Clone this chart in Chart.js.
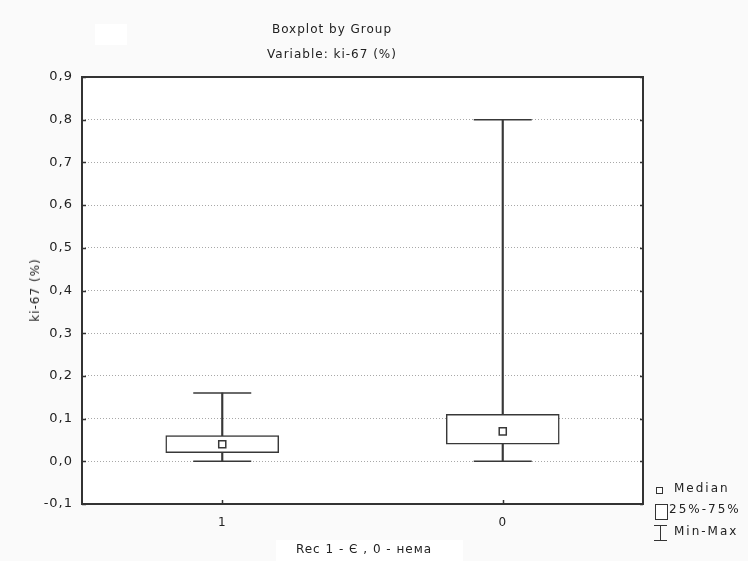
<!DOCTYPE html>
<html lang="uk">
<head>
<meta charset="UTF-8">
<title>Boxplot by Group</title>
<script src="https://cdn.jsdelivr.net/npm/chart.js"></script>
<style>
  body { margin: 0; background: #fafafa; font-family: "DejaVu Sans", sans-serif; color: #222; }
  #wrap { position: relative; width: 748px; height: 561px; overflow: hidden; }
  #chart { position: absolute; left: 0; top: 0; }
  .txt { position: absolute; font-size: 12px; letter-spacing: 1px; white-space: nowrap; }
  .patch { position: absolute; background: #fff; }
  .leg { position: absolute; font-size: 12px; letter-spacing: 2px; white-space: nowrap; }
</style>
</head>
<body>
<div id="wrap">
  <div class="patch" style="left:95px; top:24px; width:32px; height:21px;"></div>
  <div class="patch" style="left:276px; top:540px; width:187px; height:21px;"></div>
  <canvas id="chart" width="748" height="561"></canvas>
  <div class="txt" style="left:332px; top:22px; transform:translateX(-50%);">Boxplot by Group</div>
  <div class="txt" style="left:332px; top:47px; transform:translateX(-50%);">Variable: ki-67 (%)</div>
  <div class="txt" style="left:35px; top:290px; transform:translate(-50%,-50%) rotate(-90deg);">ki-67 (%)</div>
  <div class="txt" style="left:364px; top:542px; transform:translateX(-50%);">Rec 1 - Є , 0 - нема</div>

  <div style="position:absolute; left:656px; top:487px; width:5px; height:5px; border:1px solid #333; background:#fff;"></div>
  <div class="leg" style="left:674px; top:481px;">Median</div>
  <div style="position:absolute; left:655px; top:504px; width:11px; height:14px; border:1px solid #333; background:#fff;"></div>
  <div class="leg" style="left:669px; top:502px;">25%-75%</div>
  <div style="position:absolute; left:654px; top:525px; width:13px; height:1px; background:#333;"></div>
  <div style="position:absolute; left:660px; top:525px; width:1px; height:16px; background:#333;"></div>
  <div style="position:absolute; left:654px; top:540px; width:13px; height:1px; background:#333;"></div>
  <div class="leg" style="left:674px; top:524px;">Min-Max</div>
</div>

<script>
const groups = ['1', '0'];
const minVals = [0.0, 0.0];
const q1Vals = [0.02, 0.04];
const medianVals = [0.04, 0.07];
const q3Vals = [0.06, 0.11];
const maxVals = [0.16, 0.80];
const yMin = -0.1, yMax = 0.9, yStep = 0.1;

const lineCol = '#383838';

function fmt(v) {
  if (Math.abs(v) < 1e-9) v = 0;
  return v.toFixed(1).replace('.', ',');
}

// white plot area, frame and inner tick marks
const framePlugin = {
  id: 'frame',
  beforeDraw(chart) {
    const a = chart.chartArea, ctx = chart.ctx;
    ctx.letterSpacing = '1px';
    ctx.save();
    ctx.fillStyle = '#fff';
    ctx.fillRect(a.left, a.top, a.right - a.left, a.bottom - a.top);
    ctx.restore();
  },
  afterDraw(chart) {
    const a = chart.chartArea, ctx = chart.ctx;
    const ys = chart.scales.y, xs = chart.scales.x;
    ctx.save();
    ctx.strokeStyle = '#333';
    ctx.lineWidth = 2;
    ctx.strokeRect(a.left, a.top, a.right - a.left, a.bottom - a.top);
    ctx.lineWidth = 1.5;
    ctx.beginPath();
    ys.ticks.forEach(t => {
      const y = Math.round(ys.getPixelForValue(t.value)) + 0.5;
      ctx.moveTo(a.left, y); ctx.lineTo(a.left + 4, y);
      ctx.moveTo(a.right, y); ctx.lineTo(a.right - 3, y);
    });
    xs.ticks.forEach((t, i) => {
      const x = Math.round(xs.getPixelForTick(i)) + 0.5;
      ctx.moveTo(x, a.bottom); ctx.lineTo(x, a.bottom - 4);
    });
    ctx.stroke();
    ctx.restore();
  }
};

new Chart(document.getElementById('chart'), {
  data: {
    labels: groups,
    datasets: [
      { type: 'bar', label: 'Min-Max', data: groups.map((g, i) => [minVals[i], maxVals[i]]),
        backgroundColor: lineCol, barThickness: 1.5, grouped: false, order: 3 },
      { type: 'bar', label: '25%-75%', data: groups.map((g, i) => [q1Vals[i], q3Vals[i]]),
        backgroundColor: '#fff', borderColor: lineCol, borderWidth: 1.5, borderSkipped: false,
        barThickness: 113, grouped: false, order: 2 },
      { type: 'line', label: 'Min', data: minVals, showLine: false, pointStyle: 'line',
        pointRadius: 29, borderColor: lineCol, pointBorderWidth: 1.5, order: 1 },
      { type: 'line', label: 'Max', data: maxVals, showLine: false, pointStyle: 'line',
        pointRadius: 29, borderColor: lineCol, pointBorderWidth: 1.5, order: 1 },
      { type: 'line', label: 'Median', data: medianVals, showLine: false, pointStyle: 'rect',
        pointRadius: 5, backgroundColor: '#fff', borderColor: lineCol, pointBorderWidth: 1.5, order: 0 }
    ]
  },
  options: {
    responsive: false,
    animation: false,
    events: [],
    layout: { padding: { left: 0, top: 77, right: 105, bottom: 27 } },
    plugins: { legend: { display: false }, tooltip: { enabled: false } },
    scales: {
      x: {
        type: 'category', offset: true,
        grid: { display: false, drawTicks: false },
        border: { display: false },
        ticks: { color: '#222', font: { family: 'DejaVu Sans', size: 12 }, padding: 12 },
        afterFit: s => { s.height = 30; }
      },
      y: {
        min: yMin, max: yMax,
        grid: {
          drawTicks: false,
          color: c => (Math.abs(c.tick.value - yMin) < 1e-9 || Math.abs(c.tick.value - yMax) < 1e-9) ? 'rgba(0,0,0,0)' : '#a8a8a8',
          lineWidth: 1
        },
        border: { display: false, dash: [1, 2] },
        ticks: { stepSize: yStep, color: '#222', font: { family: 'DejaVu Sans', size: 13 }, padding: 9, callback: v => fmt(v) },
        afterFit: s => { s.width = 82; }
      }
    }
  },
  plugins: [framePlugin]
});
</script>
</body>
</html>
